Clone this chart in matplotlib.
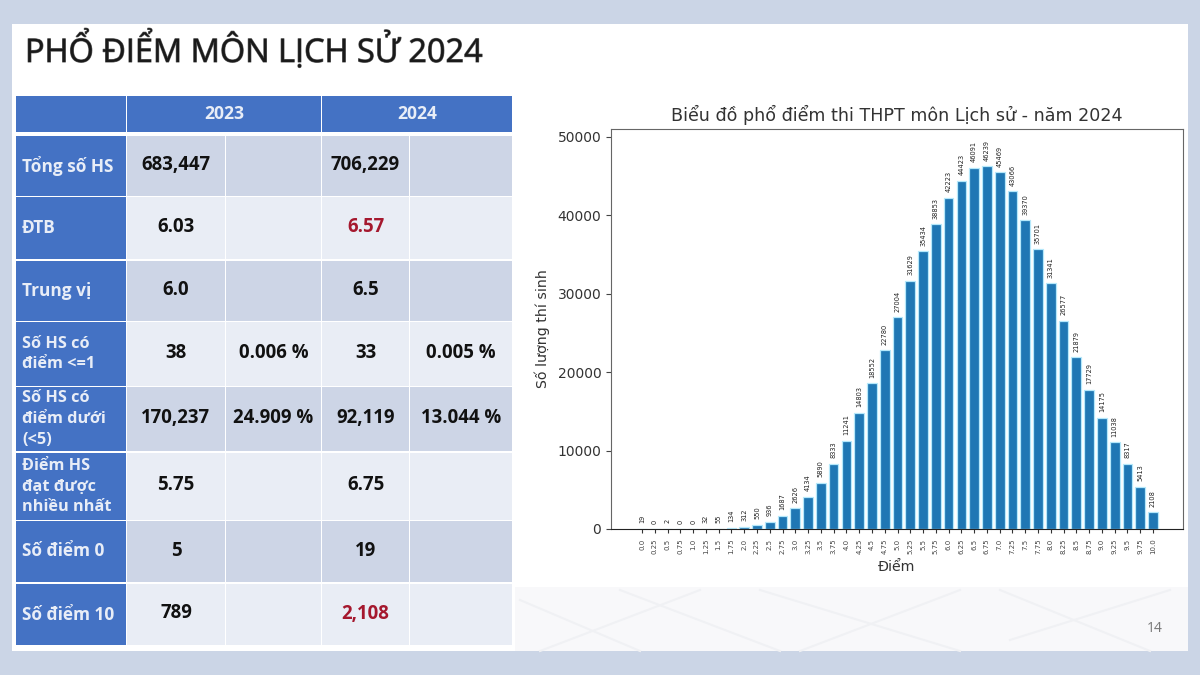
import matplotlib
matplotlib.use('Agg')
import matplotlib.pyplot as plt
import matplotlib.patheffects as pe
from matplotlib.patches import Rectangle

# histogram data
scores = ['0.0', '0.25', '0.5', '0.75', '1.0', '1.25', '1.5', '1.75', '2.0', '2.25', '2.5', '2.75', '3.0', '3.25',
          '3.5', '3.75', '4.0', '4.25', '4.5', '4.75', '5.0', '5.25', '5.5', '5.75', '6.0', '6.25', '6.5', '6.75',
          '7.0', '7.25', '7.5', '7.75', '8.0', '8.25', '8.5', '8.75', '9.0', '9.25', '9.5', '9.75', '10.0']
counts = [19, 0, 2, 0, 0, 32, 55, 134, 312, 550, 936, 1687, 2626, 4134,
          5890, 8333, 11241, 14803, 18552, 22780, 27004, 31629, 35434, 38853, 42223, 44423, 46091, 46239,
          45469, 43066, 39370, 35701, 31341, 26577, 21879, 17729, 14175, 11038, 8317, 5413, 2108]
y_ticks = [0, 10000, 20000, 30000, 40000, 50000]

# table data
row_labels = ['Tổng số HS', 'ĐTB', 'Trung vị', 'Số HS có\nđiểm <=1', 'Số HS có\nđiểm dưới\n(<5)',
              'Điểm HS\nđạt được\nnhiều nhất', 'Số điểm 0', 'Số điểm 10']
val_2023 = ['683,447', '6.03', '6.0', '38', '170,237', '5.75', '5', '789']
pct_2023 = ['', '', '', '0.006 %', '24.909 %', '', '', '']
val_2024 = ['706,229', '6.57', '6.5', '33', '92,119', '6.75', '19', '2,108']
pct_2024 = ['', '', '', '0.005 %', '13.044 %', '', '', '']
red_cells = ['6.57', '2,108']

# table layout in pixels
row_edges = [(136, 196), (197, 259), (261, 321), (322, 386), (387, 451), (453, 520), (521, 582), (584, 645)]
col_edges = [(127, 225), (226, 321), (322, 409), (410, 512)]

BLUE = '#4472C4'
BAND_DARK = '#CDD5E6'
BAND_LIGHT = '#E9EDF5'
TEXT_FONT = 'Open Sans'

fig = plt.figure(figsize=(12, 6.75), dpi=100, facecolor='#CBD5E6')

# whole slide drawn in pixel coordinates
bg = fig.add_axes([0, 0, 1, 1])
bg.set_xlim(0, 1200)
bg.set_ylim(675, 0)
bg.axis('off')

bg.add_patch(Rectangle((12, 24), 1176, 627, color='white', lw=0))
bg.add_patch(Rectangle((515, 587), 673, 64, color='#F8F8FA', lw=0))

# faint background pattern under the chart
for x0, y0, x1, y1 in [(520, 600, 640, 651), (620, 590, 780, 651), (760, 590, 960, 651),
                       (1000, 590, 1150, 651), (540, 651, 700, 590), (800, 651, 960, 590),
                       (1010, 640, 1170, 590)]:
    bg.plot([x0, x1], [y0, y1], color='#F0F1F4', lw=1.5)

title = bg.text(25, 50, 'PHỔ ĐIỂM MÔN LỊCH SỬ 2024', fontsize=23.4, family=TEXT_FONT, color='#1a1a1a',
                va='center', ha='left')
title.set_path_effects([pe.withStroke(linewidth=0.8, foreground='#666666')])

# header row
bg.add_patch(Rectangle((16, 96), 110, 36, color=BLUE, lw=0))
bg.add_patch(Rectangle((127, 96), 194, 36, color=BLUE, lw=0))
bg.add_patch(Rectangle((322, 96), 190, 36, color=BLUE, lw=0))
bg.text(224, 114, '2023', color='#E8EDF7', fontsize=12.6, fontweight='bold', family=TEXT_FONT, ha='center', va='center')
bg.text(417, 114, '2024', color='#E8EDF7', fontsize=12.6, fontweight='bold', family=TEXT_FONT, ha='center', va='center')

# body rows
for i in range(len(row_labels)):
    top, bottom = row_edges[i]
    bg.add_patch(Rectangle((16, top), 110, bottom - top, color=BLUE, lw=0))
    # the wrapped labels are a little smaller than the one line ones
    label_size = 11.7 if '\n' in row_labels[i] else 12.4
    bg.text(22, (top + bottom) / 2, row_labels[i], color='#E8EDF7', fontsize=label_size, fontweight='bold',
            family=TEXT_FONT, ha='left', va='center', linespacing=1.41)
    band = BAND_DARK if i % 2 == 0 else BAND_LIGHT
    cells = [val_2023[i], pct_2023[i], val_2024[i], pct_2024[i]]
    for (left, right), cell in zip(col_edges, cells):
        bg.add_patch(Rectangle((left, top), right - left, bottom - top, color=band, lw=0))
        color = '#A5182E' if cell in red_cells else '#111111'
        bg.text((left + right) / 2, (top + bottom) / 2 - 1, cell, color=color, fontsize=13.4, fontweight='bold',
                family=TEXT_FONT, ha='center', va='center')

bg.text(1155, 628, '14', color='#777777', fontsize=10, family=TEXT_FONT, ha='center', va='center')

# bar chart
ax = fig.add_axes([611 / 1200, 1 - 529 / 675, 572 / 1200, 400 / 675])
positions = list(range(len(scores)))
bars = ax.bar(positions, counts, width=0.76, color='#1F77B4', edgecolor='#B5E8FB', linewidth=0.9)

# value above every bar
for bar, value in zip(bars, counts):
    ax.text(bar.get_x() + bar.get_width() / 2, value + 700, str(value), rotation=90,
            ha='center', va='bottom', fontsize=4.8, color='#222222')

ax.set_xlim(-2.43, 42.35)
ax.set_ylim(0, 51000)
ax.set_xticks(positions)
ax.set_xticklabels(scores, rotation=90, fontsize=5, color='#444444')
ax.set_yticks(y_ticks)
ax.tick_params(axis='y', labelsize=10, labelcolor='#333333', color='#444444')
ax.tick_params(axis='x', color='#333333', length=3, pad=4)
ax.set_xlabel('Điểm', fontsize=10.2, color='#333333', labelpad=4)
ax.set_ylabel('Số lượng thí sinh', fontsize=10.2, color='#333333', labelpad=5)
ax.set_title('Biểu đồ phổ điểm thi THPT môn Lịch sử - năm 2024', fontsize=12.6, color='#333333', pad=6)
for spine in ax.spines.values():
    spine.set_color('#666666')
ax.spines['bottom'].set_color('#222222')

fig.savefig('out.png', dpi=100)
